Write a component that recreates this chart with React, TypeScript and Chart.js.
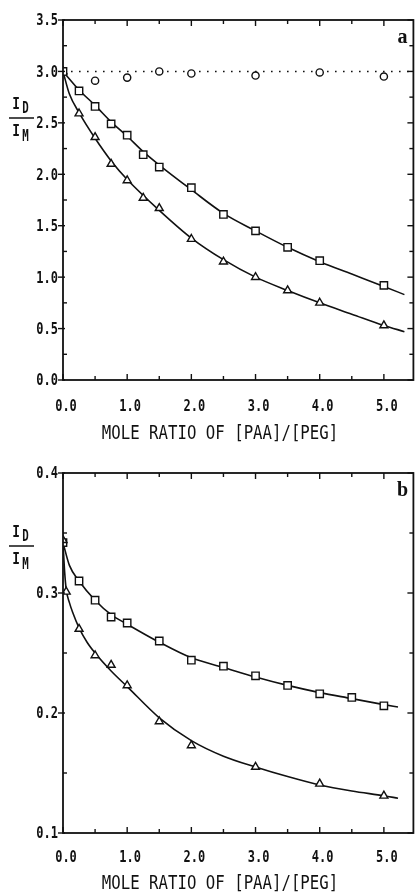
import React, { useEffect, useRef } from "react";
import { Chart, registerables } from "chart.js";

Chart.register(...registerables);

// ---------- shared axis labels ----------
const xTickValues = [0, 1, 2, 3, 4, 5];
const xTickLabels = ["0.0", "1.0", "2.0", "3.0", "4.0", "5.0"];
const xMinorTicks = [0.5, 1.5, 2.5, 3.5, 4.5];
const xTitle = "MOLE RATIO OF [PAA]/[PEG]";
const xMax = 5.46;

// ---------- panel a ----------
const aYTickValues = [0, 0.5, 1, 1.5, 2, 2.5, 3, 3.5];
const aYTickLabels = ["0.0", "0.5", "1.0", "1.5", "2.0", "2.5", "3.0", "3.5"];
const aYMinorTicks = [0.25, 0.75, 1.25, 1.75, 2.25, 2.75, 3.25];

const aCircleX = [0.5, 1, 1.5, 2, 3, 4, 5];
const aCircleY = [2.91, 2.94, 3.0, 2.98, 2.96, 2.99, 2.95];

const aSquareX = [0, 0.25, 0.5, 0.75, 1, 1.25, 1.5, 2, 2.5, 3, 3.5, 4, 5];
const aSquareY = [3.0, 2.81, 2.66, 2.49, 2.38, 2.19, 2.07, 1.87, 1.61, 1.45, 1.29, 1.16, 0.92];

const aTriangleX = [0, 0.25, 0.5, 0.75, 1, 1.25, 1.5, 2, 2.5, 3, 3.5, 4, 5];
const aTriangleY = [3.0, 2.59, 2.36, 2.1, 1.94, 1.77, 1.67, 1.37, 1.15, 1.0, 0.87, 0.75, 0.53];

const aSquareFitX = [0, 0.25, 0.5, 0.75, 1, 1.25, 1.5, 2, 2.5, 3, 3.5, 4, 4.5, 5, 5.32];
const aSquareFitY = [3.0, 2.82, 2.67, 2.51, 2.37, 2.22, 2.09, 1.85, 1.62, 1.45, 1.29, 1.15, 1.03, 0.91, 0.83];

const aTriangleFitX = [0, 0.1, 0.25, 0.5, 0.75, 1, 1.5, 2, 2.5, 3, 3.5, 4, 4.5, 5, 5.32];
const aTriangleFitY = [3.0, 2.78, 2.6, 2.35, 2.13, 1.95, 1.65, 1.38, 1.17, 1.0, 0.87, 0.75, 0.64, 0.53, 0.47];

const aRefLineX = [0, 5.46];
const aRefLineY = [3.0, 3.0];

// ---------- panel b ----------
const bYTickValues = [0.1, 0.2, 0.3, 0.4];
const bYTickLabels = ["0.1", "0.2", "0.3", "0.4"];
const bYMinorTicks = [0.15, 0.25, 0.35];

const bSquareX = [0, 0.25, 0.5, 0.75, 1, 1.5, 2, 2.5, 3, 3.5, 4, 4.5, 5];
const bSquareY = [0.342, 0.31, 0.294, 0.28, 0.275, 0.26, 0.244, 0.239, 0.231, 0.223, 0.216, 0.213, 0.206];

const bTriangleX = [0, 0.05, 0.25, 0.5, 0.75, 1, 1.5, 2, 3, 4, 5];
const bTriangleY = [0.344, 0.301, 0.27, 0.248, 0.24, 0.223, 0.193, 0.173, 0.155, 0.141, 0.131];

const bSquareFitX = [0, 0.1, 0.25, 0.5, 0.75, 1, 1.5, 2, 2.5, 3, 3.5, 4, 4.5, 5, 5.22];
const bSquareFitY = [0.342, 0.323, 0.31, 0.294, 0.282, 0.274, 0.259, 0.246, 0.238, 0.23, 0.223, 0.217, 0.212, 0.207, 0.205];

const bTriangleFitX = [0, 0.025, 0.05, 0.1, 0.15, 0.25, 0.375, 0.5, 0.75, 1, 1.5, 2, 2.5, 3, 3.5, 4, 4.5, 5, 5.22];
const bTriangleFitY = [0.342, 0.318, 0.303, 0.292, 0.284, 0.271, 0.259, 0.25, 0.235, 0.222, 0.196, 0.177, 0.164, 0.155, 0.147, 0.14, 0.135, 0.131, 0.129];

// ---------- helpers ----------
const INK = "#111";
const MONO = '"DejaVu Sans Mono", monospace';

function pts(xs: number[], ys: number[]) {
  return xs.map((x, i) => ({ x, y: ys[i] }));
}

function condText(
  ctx: CanvasRenderingContext2D,
  text: string,
  x: number,
  cy: number,
  size: number,
  sx: number,
  align: CanvasTextAlign,
  weight = "normal"
) {
  ctx.save();
  ctx.font = `${weight} ${size}px ${MONO}`;
  ctx.textAlign = align;
  ctx.textBaseline = "alphabetic";
  ctx.fillStyle = INK;
  ctx.translate(x, cy + size * 0.365);
  ctx.scale(sx, 1);
  ctx.fillText(text, 0, 0);
  ctx.restore();
}

const paperFrame = {
  id: "paperFrame",
  afterDatasetsDraw(chart: any, _args: any, opts: any) {
    const ctx: CanvasRenderingContext2D = chart.ctx;
    const { left, right, top, bottom } = chart.chartArea;
    const xs = chart.scales.x;
    const ys = chart.scales.y;
    ctx.save();
    ctx.strokeStyle = INK;
    ctx.lineWidth = 1.8;
    ctx.strokeRect(left, top, right - left, bottom - top);
    ctx.lineWidth = 1.4;
    const line = (x1: number, y1: number, x2: number, y2: number) => {
      ctx.beginPath();
      ctx.moveTo(x1, y1);
      ctx.lineTo(x2, y2);
      ctx.stroke();
    };
    opts.xTicks.forEach((v: number) => {
      const p = xs.getPixelForValue(v);
      line(p, bottom, p, bottom - 6);
      line(p, top, p, top + 6);
    });
    opts.xMinor.forEach((v: number) => {
      const p = xs.getPixelForValue(v);
      line(p, bottom, p, bottom - 4);
      line(p, top, p, top + 4);
    });
    opts.yTicks.forEach((v: number) => {
      const p = ys.getPixelForValue(v);
      line(left - 5, p, left + 2, p);
      line(right, p, right - 6, p);
    });
    opts.yMinor.forEach((v: number) => {
      const p = ys.getPixelForValue(v);
      line(left, p, left + 4, p);
      line(right, p, right - 4, p);
    });
    // tick labels
    opts.xTicks.forEach((v: number, i: number) => {
      condText(ctx, opts.xLabels[i], xs.getPixelForValue(v) + 3, opts.labelY, 15, 0.8, "center", "bold");
    });
    opts.yTicks.forEach((v: number, i: number) => {
      condText(ctx, opts.yLabels[i], left - 5, ys.getPixelForValue(v), 15, 0.8, "right", "bold");
    });
    // x axis title
    condText(ctx, opts.title, 220, opts.titleY, 20, 0.785, "center");
    // y axis title: I_D / I_M
    const ly = opts.fracY;
    ctx.lineWidth = 1.5;
    line(9, ly, 34, ly);
    condText(ctx, "I", 16, ly - 15, 16, 0.8, "center", "bold");
    condText(ctx, "D", 25.5, ly - 10, 15, 0.72, "center", "bold");
    condText(ctx, "I", 16, ly + 12, 16, 0.8, "center", "bold");
    condText(ctx, "M", 25.5, ly + 18, 15, 0.72, "center", "bold");
    // panel letter
    ctx.font = 'bold 20px "Liberation Serif", serif';
    ctx.fillStyle = INK;
    ctx.textAlign = "center";
    ctx.textBaseline = "alphabetic";
    ctx.fillText(opts.letter, 402.5, 43);
    ctx.restore();
  },
};

const markerBase = {
  showLine: false,
  pointBackgroundColor: "#fff",
  pointBorderColor: INK,
  pointBorderWidth: 1.4,
  pointHoverRadius: 0,
};

const curveBase = {
  showLine: true,
  borderColor: INK,
  borderWidth: 1.6,
  pointRadius: 0,
  cubicInterpolationMode: "monotone" as const,
  fill: false,
};

type PanelCfg = {
  datasets: any[];
  yMin: number;
  yMax: number;
  frame: any;
};

const panelA: PanelCfg = {
  yMin: 0,
  yMax: 3.5,
  datasets: [
    { ...markerBase, label: "squares", data: pts(aSquareX, aSquareY), pointStyle: "rect", pointRadius: 5.2 },
    { ...markerBase, label: "triangles", data: pts(aTriangleX, aTriangleY), pointStyle: "triangle", pointRadius: 4.6 },
    { ...markerBase, label: "circles", data: pts(aCircleX, aCircleY), pointStyle: "circle", pointRadius: 3.6 },
    { ...curveBase, label: "square fit", data: pts(aSquareFitX, aSquareFitY) },
    { ...curveBase, label: "triangle fit", data: pts(aTriangleFitX, aTriangleFitY) },
    { ...curveBase, label: "reference", data: pts(aRefLineX, aRefLineY), borderDash: [1.6, 6.4], borderWidth: 1.6, cubicInterpolationMode: "default" },
  ],
  frame: {
    xTicks: xTickValues,
    xLabels: xTickLabels,
    xMinor: xMinorTicks,
    yTicks: aYTickValues,
    yLabels: aYTickLabels,
    yMinor: aYMinorTicks,
    title: xTitle,
    labelY: 406,
    titleY: 432,
    fracY: 118,
    letter: "a",
  },
};

const panelB: PanelCfg = {
  yMin: 0.1,
  yMax: 0.4,
  datasets: [
    { ...markerBase, label: "triangles", data: pts(bTriangleX, bTriangleY), pointStyle: "triangle", pointRadius: 4.6 },
    { ...markerBase, label: "squares", data: pts(bSquareX, bSquareY), pointStyle: "rect", pointRadius: 5.2 },
    { ...curveBase, label: "square fit", data: pts(bSquareFitX, bSquareFitY) },
    { ...curveBase, label: "triangle fit", data: pts(bTriangleFitX, bTriangleFitY) },
  ],
  frame: {
    xTicks: xTickValues,
    xLabels: xTickLabels,
    xMinor: xMinorTicks,
    yTicks: bYTickValues,
    yLabels: bYTickLabels,
    yMinor: bYMinorTicks,
    title: xTitle,
    labelY: 404,
    titleY: 429,
    fracY: 93,
    letter: "b",
  },
};

function Panel({ cfg, top }: { cfg: PanelCfg; top: number }) {
  const ref = useRef<HTMLCanvasElement>(null);
  useEffect(() => {
    if (!ref.current) return;
    const chart = new Chart(ref.current, {
      type: "scatter",
      data: { datasets: cfg.datasets },
      options: {
        responsive: false,
        animation: false,
        devicePixelRatio: 1,
        events: [],
        layout: { padding: { top: 20, right: 2, left: 0, bottom: 0 } },
        plugins: {
          legend: { display: false },
          tooltip: { enabled: false },
          paperFrame: cfg.frame,
        } as any,
        scales: {
          x: {
            type: "linear",
            min: 0,
            max: xMax,
            grid: { display: false, drawTicks: false },
            border: { display: false },
            ticks: { display: false },
            afterFit: (s: any) => {
              s.height = 65;
            },
          },
          y: {
            type: "linear",
            min: cfg.yMin,
            max: cfg.yMax,
            grid: { display: false, drawTicks: false },
            border: { display: false },
            ticks: { display: false },
            afterFit: (s: any) => {
              s.width = 63;
            },
          },
        },
      },
      plugins: [paperFrame],
    });
    return () => chart.destroy();
  }, [cfg]);
  return (
    <canvas
      ref={ref}
      width={420}
      height={445}
      style={{ position: "absolute", left: 0, top, width: 420, height: 445 }}
    />
  );
}

export default function App() {
  return (
    <div
      style={{
        position: "fixed",
        left: 0,
        top: 0,
        width: 420,
        height: 893,
        overflow: "hidden",
        background: "#fff",
      }}
    >
      <Panel cfg={panelA} top={0} />
      <Panel cfg={panelB} top={453} />
    </div>
  );
}
